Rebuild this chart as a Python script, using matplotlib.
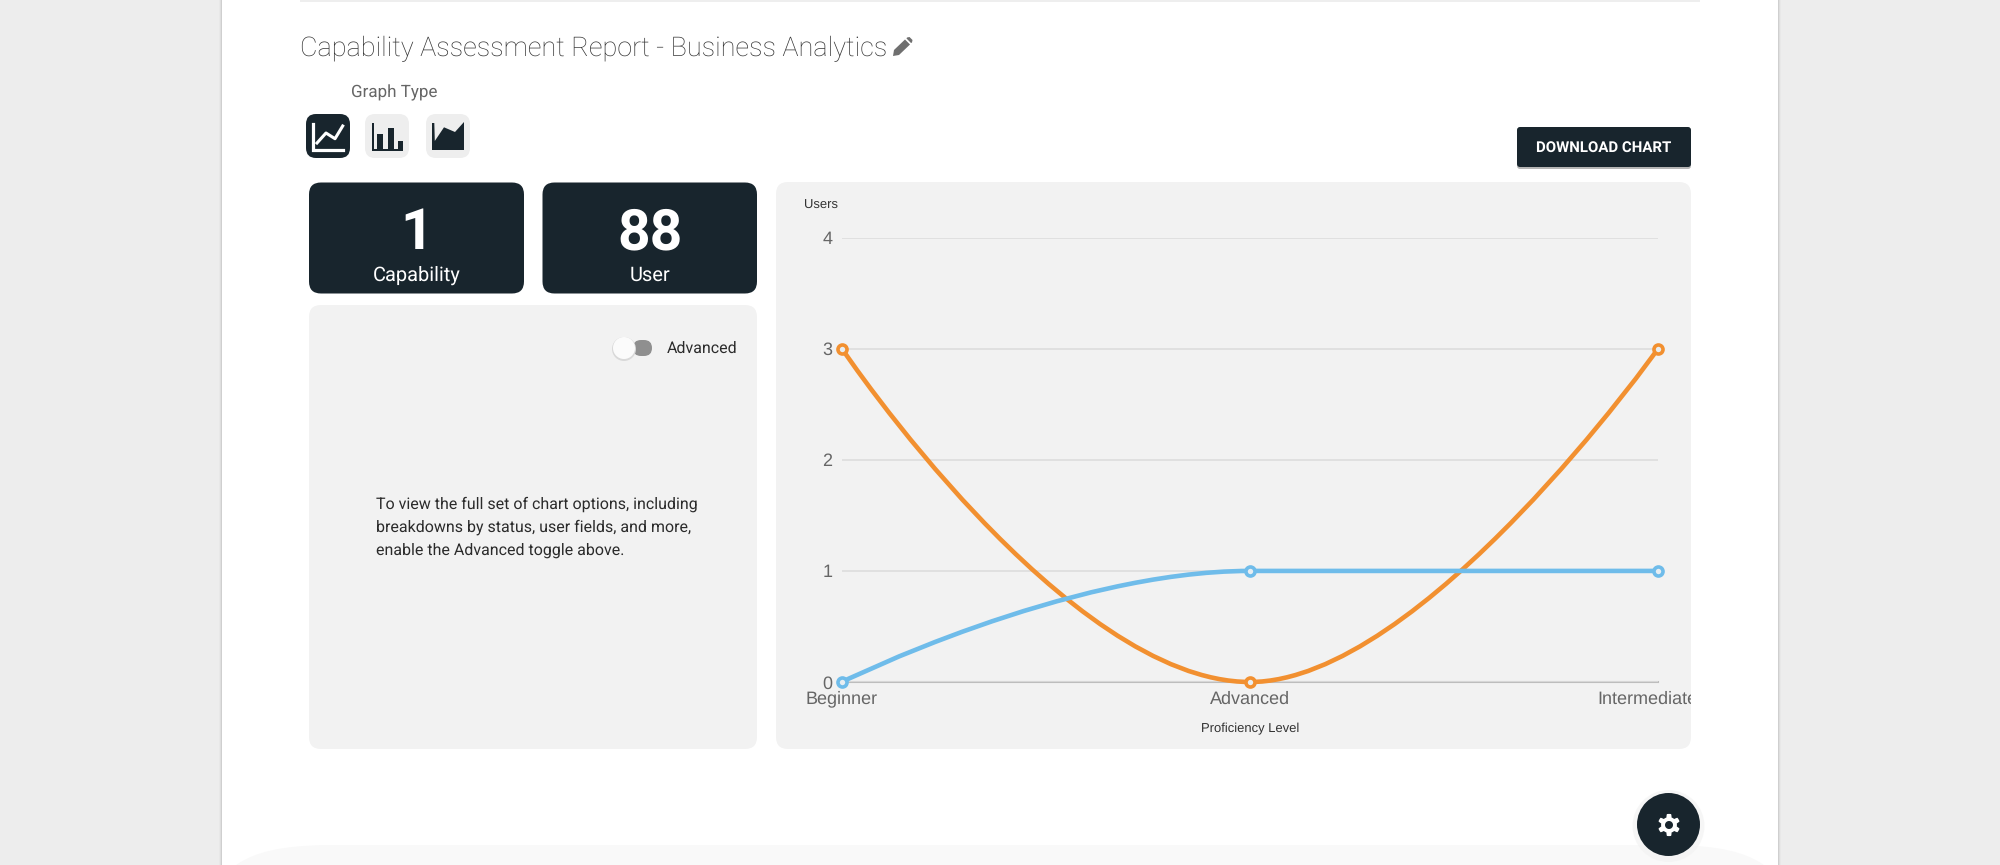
import numpy as np
import matplotlib
matplotlib.use("Agg")
import matplotlib.pyplot as plt
from matplotlib.patches import FancyBboxPatch, PathPatch, Circle, Rectangle, Polygon
from matplotlib.path import Path
from matplotlib.transforms import ScaledTranslation

plt.rcParams["text.hinting"] = "no_hinting"
plt.rcParams["text.hinting_factor"] = 1

# ---- data ----
categories = ["Beginner", "Advanced", "Intermediate"]
blue_values = [0, 1, 1]
orange_values = [3, 0, 3]
y_ticks = [0, 1, 2, 3, 4]
card_numbers = ["1", "88"]
card_labels = ["Capability", "User"]
title_text = "Capability Assessment Report - Business Analytics"
note_lines = ["To view the full set of chart options, including",
              "breakdowns by status, user fields, and more,",
              "enable the Advanced toggle above."]

# ---- palette ----
DARK = "#18252d"; PANEL = "#f2f2f2"; PAGE = "#ededed"
BLUE = "#6fbcea"; ORANGE = "#f29030"

W, H = 2000, 865
fig = plt.figure(figsize=(W / 100, H / 100), dpi=100, facecolor=PAGE)
bg = fig.add_axes([0, 0, 1, 1], zorder=0)
bg.set_xlim(0, W); bg.set_ylim(H, 0); bg.axis("off")


def rbox(x0, y0, x1, y1, r, fc, z=1, ax=bg, ec="none"):
    p = FancyBboxPatch((x0 + r, y0 + r), x1 - x0 - 2 * r, y1 - y0 - 2 * r,
                       boxstyle=f"round,pad={r},rounding_size={r}", fc=fc, ec=ec, lw=0, zorder=z)
    ax.add_patch(p)
    return p


# page sheet and its shadow
for i, c in enumerate(["#e8e8e8", "#dedede", "#cfcfcf"]):
    bg.add_patch(Rectangle((219 + i, 0), 1562 - 2 * i, H, fc=c, ec="none", zorder=0.5 + i * 0.01))
bg.add_patch(Rectangle((222, 0), 1556, H, fc="white", ec="none", zorder=0.6))
bg.add_patch(Rectangle((300, 0), 1400, 2, fc="#eeeeee", ec="none", zorder=1))
foot = Path([(236, 865), (255, 852), (280, 846), (325, 845), (1675, 845), (1720, 846), (1745, 852), (1764, 865), (236, 865)],
            [Path.MOVETO, Path.CURVE4, Path.CURVE4, Path.CURVE4, Path.LINETO, Path.CURVE4, Path.CURVE4, Path.CURVE4, Path.CLOSEPOLY])
bg.add_patch(PathPatch(foot, fc="#f9f9f9", ec="none", zorder=0.7))

# title row
bg.text(300, 48.5, title_text, fontfamily="Roboto", fontweight="light", fontsize=19.1,
        color="#333333", va="center", ha="left", zorder=3)
bg.add_patch(Polygon([(894, 50), (905, 39.5), (910, 44.5), (899, 55), (893, 56)], fc="#6f6f6f", ec="none", zorder=3))
bg.add_patch(Polygon([(907, 37.5), (909.5, 37), (912.5, 40), (912, 42.5), (911, 43), (906.5, 38.5)], fc="#6f6f6f", ec="none", zorder=3))
bg.text(351, 93, "Graph Type", fontfamily="Roboto", fontsize=12.5, color="#666666", va="center", zorder=3)

# graph type icons
rbox(306, 114, 350, 158, 10, DARK, z=2)
rbox(365, 114, 409, 158, 10, "#eeeeee", z=2)
rbox(426, 114, 470, 158, 10, "#eeeeee", z=2)
bg.plot([312.7, 312.7, 343], [124, 149.7, 149.7], color="white", lw=2.3, zorder=3, solid_joinstyle="miter")
bg.plot([317, 326, 335, 342.7], [143, 133, 138.7, 126], color="white", lw=2.2, zorder=3)
for x0, x1, top in [(371.7, 373.9, 123), (377.3, 383.3, 134), (388.3, 394, 128), (397.7, 403.3, 140.7)]:
    bg.add_patch(Rectangle((x0, top), x1 - x0, 151 - top, fc=DARK, ec="none", zorder=3))
bg.add_patch(Rectangle((371.7, 149), 31.6, 2, fc=DARK, ec="none", zorder=3))
bg.add_patch(Polygon([(432, 123), (434.3, 123), (434.8, 141), (444, 127.3), (455, 132), (464, 122), (464, 150), (432, 150)],
                     fc=DARK, ec="none", zorder=3))

# download button
rbox(1517, 129, 1691, 169, 3, "#b5b5b5", z=1.9)
rbox(1517, 127, 1691, 167, 3, DARK, z=2)
bg.text(1604, 147.5, "DOWNLOAD CHART", fontfamily="Roboto", fontweight="bold", fontsize=11.0,
        color="white", ha="center", va="center", zorder=3)

# stat cards
card_spans = [(309, 524), (542.5, 757)]
for (x0, x1), num, lab in zip(card_spans, card_numbers, card_labels):
    rbox(x0, 182.5, x1, 293.5, 12, DARK, z=2)
    bg.text((x0 + x1) / 2, 233.5, num, fontfamily="Roboto", fontweight="bold", fontsize=41,
            color="white", ha="center", va="center", zorder=3)
    bg.text((x0 + x1) / 2, 275.5, lab, fontfamily="Roboto", fontsize=14.3, color="white",
            ha="center", va="center", zorder=3)

# left options panel
rbox(309, 305, 757, 749, 12, PANEL, z=1)
rbox(633, 340, 652, 356, 8, "#8f8f8f", z=2)
bg.add_patch(Circle((624, 349), 12, fc="#d9d9d9", ec="none", zorder=2.5))
bg.add_patch(Circle((624, 348), 11, fc="#fbfbfb", ec="none", zorder=3))
bg.text(667, 348.5, "Advanced", fontfamily="Roboto", fontsize=11.4, color="#2b2b2b", va="center", zorder=3)
for ln, y in zip(note_lines, [504.5, 527.5, 550.5]):
    bg.text(376.5, y, ln, fontfamily="Roboto", fontsize=11.35, color="#2b2b2b", va="center", zorder=3)

# chart panel
panel = rbox(776, 182, 1691, 749, 12, PANEL, z=1)

# floating settings button
bg.add_patch(Circle((1668.5, 826), 36, fc="#f0f0f0", ec="none", alpha=0.55, zorder=4))
bg.add_patch(Circle((1668.5, 824.5), 31.5, fc=DARK, ec="none", zorder=4.1))
ang = np.linspace(0, 2 * np.pi, 241)[:-1]
rad = 9.5 + 1.6 * np.clip(-2.5 * np.cos(6 * ang), -1, 1)
outer = np.c_[1669 + rad * np.cos(ang), 825 + rad * np.sin(ang)]
inner = np.c_[1669 + 4 * np.cos(-ang), 825 + 4 * np.sin(-ang)]
verts = np.r_[outer, outer[:1], inner, inner[:1]]
codes = [Path.MOVETO] + [Path.LINETO] * (len(outer) - 1) + [Path.CLOSEPOLY] + \
        [Path.MOVETO] + [Path.LINETO] * (len(inner) - 1) + [Path.CLOSEPOLY]
bg.add_patch(PathPatch(Path(verts, codes), fc="white", ec="none", zorder=4.2))

# ---- the chart ----
left, right, top, bottom = 842, 1658, 237.7, 682
ax = fig.add_axes([left / W, 1 - bottom / H, (right - left) / W, (bottom - top) / H], zorder=2)
ax.patch.set_alpha(0)
ax.set_xlim(0, len(categories) - 1)
ax.set_ylim(0, max(y_ticks))
for s in ax.spines.values():
    s.set_visible(False)
ax.set_yticks(y_ticks)
ax.set_xticks(range(len(categories)))
ax.grid(axis="y", color="#dddddd", lw=1.2, zorder=0)
ax.grid(axis="x", visible=False)
ax.axhline(0, color="#bdbdbd", lw=1.5, zorder=1, clip_on=False)
ax.tick_params(axis="both", length=0)
ax.tick_params(axis="y", pad=7)
ax.tick_params(axis="x", pad=6)
ax.set_yticklabels([str(v) for v in y_ticks], fontfamily="Liberation Sans", fontsize=13, color="#666666")
xlabs = ax.set_xticklabels(categories, fontfamily="Liberation Sans", fontsize=13, color="#666666")
clip = Rectangle((776, 182), 915, 567, transform=bg.transData)
for t in xlabs:
    t.set_clip_path(clip)
    t.set_clip_on(True)
# the last label is pulled inwards, as the original chart does
xlabs[-1].set_transform(xlabs[-1].get_transform() + ScaledTranslation(-11 / 100, 0, fig.dpi_scale_trans))


def smooth(values, arrive=0.45, leave=0.42):
    """Bezier through the points: flat handles at interior points, none at the ends."""
    v = [(0, values[0])]
    c = [Path.MOVETO]
    for i in range(len(values) - 1):
        has_prev = i > 0
        has_next = i + 1 < len(values) - 1
        p1 = (i + leave if has_prev else i, values[i])
        p2 = (i + 1 - arrive if has_next else i + 1, values[i + 1])
        v += [p1, p2, (i + 1, values[i + 1])]
        c += [Path.CURVE4] * 3
    return Path(v, c)


xs = np.arange(len(categories))
for vals, col, z in [(orange_values, ORANGE, 3), (blue_values, BLUE, 4)]:
    ax.add_patch(PathPatch(smooth(vals), fc="none", ec=col, lw=3.3, zorder=z, clip_on=False))
    ax.plot(xs, vals, ls="none", marker="o", ms=6.5, mfc="#e8eef2", mec=col, mew=2.6, zorder=z + 0.5, clip_on=False)

fig.text(804 / W, 1 - 206 / H, "Users", fontfamily="Liberation Sans", fontsize=9, color="#333333", va="center", zorder=5)
fig.text(1250 / W, 1 - 729 / H, "Proficiency Level", fontfamily="Liberation Sans", fontsize=9.4,
         color="#333333", ha="center", va="center", zorder=5)

fig.savefig("out.png", dpi=100, facecolor=fig.get_facecolor())
